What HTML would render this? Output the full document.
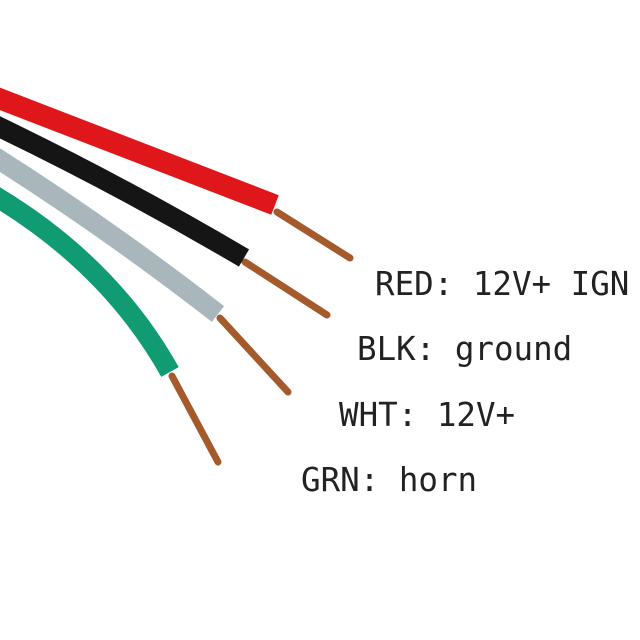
<!DOCTYPE html>
<html><head><meta charset="utf-8"><style>
html,body{margin:0;padding:0;background:#fff;width:640px;height:640px;overflow:hidden}
svg{display:block}
text{font-family:"DejaVu Sans Mono","Liberation Mono",monospace;font-size:32.5px;fill:#222}
</style></head><body>
<svg width="640" height="640" viewBox="0 0 640 640">
<g stroke-linecap="round" fill="none">
<path d="M277 212 L350 258" stroke="#a55a2c" stroke-width="7"/>
<path d="M245 262 L327 315" stroke="#a55a2c" stroke-width="7"/>
<path d="M220 318 L288 392" stroke="#a55a2c" stroke-width="7"/>
<path d="M172 376 L218 462" stroke="#a55a2c" stroke-width="7"/>
</g>
<g fill="none" stroke-linecap="butt">
<path d="M-5 97 L275 205" stroke="#e0171a" stroke-width="21"/>
<path d="M-5 125 Q120 185 244 258" stroke="#151515" stroke-width="20"/>
<path d="M-5 157 Q110 230 218 314" stroke="#a9b7bd" stroke-width="20"/>
<path d="M-5 196 Q110 265 170 372" stroke="#119b73" stroke-width="20"/>
</g>
<text x="375" y="295">RED: 12V+ IGN</text>
<text x="357" y="360">BLK: ground</text>
<text x="339" y="426">WHT: 12V+</text>
<text x="301" y="491">GRN: horn</text>
</svg>
</body></html>
